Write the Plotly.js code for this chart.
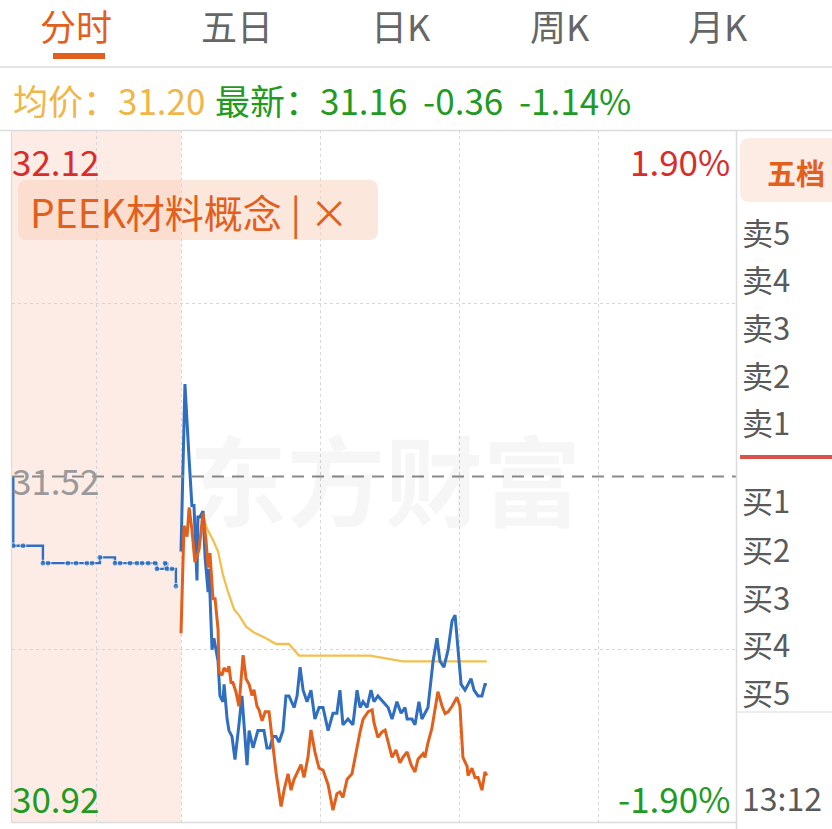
<!DOCTYPE html>
<html>
<head>
<meta charset="utf-8">
<script src="https://cdn.plot.ly/plotly-3.0.1.min.js"></script>
<style>
html,body{margin:0;padding:0;background:#fff;}
#chart{width:832px;height:829px;}
</style>
</head>
<body>
<div id="chart"></div>
<script>
// ---------------- data ----------------
const tabs = ['分时', '五日', '日K', '周K', '月K'];
const prevClose = 31.52;
const priceLabels = ['32.12', '31.52', '30.92'];
const pctLabels = ['1.90%', '-1.90%'];
const yRange = [30.92, 32.12];
const pctRange = [-1.90, 1.90];
const conceptName = 'PEEK材料概念 | ×';
const avgText = '均价：31.20';
const lastText = '最新：31.16  -0.36  -1.14%';
const bookLabels = ['卖5', '卖4', '卖3', '卖2', '卖1', '买1', '买2', '买3', '买4', '买5'];
const timeNow = '13:12';
const watermark = '东方财富';

// call auction (stretched region before 9:30)
const auctionT = [-72.4, -72.4, -68.2, -59.6, -57.4, -48.8, -45.3, -40.6, -38.4, -35.0, -28.5, -26.3, -22.0, -19.0, -16.8, -14.2, -11.2, -10.4, -6.9, -6.0, -3.9, -2.2];
const auctionPrice = [31.52, 31.40, 31.40, 31.37, 31.37, 31.37, 31.37, 31.37, 31.37, 31.38, 31.37, 31.37, 31.37, 31.37, 31.37, 31.37, 31.37, 31.36, 31.37, 31.36, 31.36, 31.33];

// minutes from 9:30 (lunch break removed)
const blueT = [0, 1.7, 3.5, 4.7, 5.6, 6.9, 7.3, 8.2, 9.5, 10.4, 11.7, 12.1, 13.4, 14.2, 16.0, 16.8, 18.1, 18.6, 19.9, 20.7, 22.0, 23.3, 25.0, 26.3, 28.5, 29.4, 31.1, 33.2, 35.0, 35.8, 37.1, 38.4, 39.7, 41.0, 42.3, 44.0, 45.3, 46.6, 48.8, 50.1, 51.4, 52.7, 54.4, 56.1, 57.8, 59.6, 61.3, 63.5, 65.6, 67.3, 68.6, 69.9, 72.1, 74.2, 76.0, 77.3, 78.6, 80.3, 82.0, 83.3, 85.0, 87.2, 89.4, 91.1, 93.2, 95.0, 96.7, 97.6, 99.7, 101.0, 102.7, 104.0, 106.6, 108.8, 110.5, 111.8, 113.5, 115.3, 117.0, 118.3, 119.1, 120.9, 122.6, 123.9, 125.2, 126.5, 128.2, 129.9, 131.2, 132.0];
const bluePrice = [31.39, 31.68, 31.55, 31.47, 31.47, 31.34, 31.45, 31.45, 31.46, 31.38, 31.32, 31.36, 31.22, 31.24, 31.20, 31.14, 31.13, 31.16, 31.10, 31.08, 31.07, 31.03, 31.09, 31.14, 31.02, 31.08, 31.05, 31.08, 31.08, 31.08, 31.05, 31.05, 31.07, 31.07, 31.06, 31.08, 31.14, 31.14, 31.12, 31.14, 31.19, 31.15, 31.13, 31.15, 31.10, 31.12, 31.12, 31.08, 31.11, 31.11, 31.15, 31.09, 31.10, 31.09, 31.15, 31.12, 31.13, 31.12, 31.15, 31.13, 31.14, 31.13, 31.12, 31.10, 31.13, 31.11, 31.12, 31.10, 31.10, 31.09, 31.13, 31.10, 31.12, 31.20, 31.24, 31.20, 31.19, 31.22, 31.27, 31.28, 31.24, 31.16, 31.15, 31.16, 31.17, 31.15, 31.14, 31.14, 31.16, 31.16];

const orangeT = [0, 1.3, 2.6, 3.5, 4.7, 6.0, 7.8, 9.5, 10.8, 11.7, 12.5, 13.8, 14.7, 16.0, 16.4, 17.7, 18.6, 19.9, 20.7, 21.6, 22.4, 23.7, 25.0, 26.8, 28.1, 29.4, 30.6, 31.5, 32.8, 33.7, 35.0, 36.3, 38.0, 39.7, 41.0, 43.2, 44.5, 46.2, 47.5, 48.8, 51.8, 53.1, 54.8, 56.1, 57.8, 59.6, 61.3, 63.5, 65.6, 67.3, 68.6, 69.9, 71.7, 73.8, 75.1, 77.3, 78.6, 80.8, 82.5, 83.3, 85.0, 86.8, 88.1, 89.4, 91.1, 92.8, 94.5, 95.8, 97.6, 99.3, 101.0, 102.3, 104.5, 105.3, 106.6, 108.3, 109.6, 110.9, 112.7, 114.0, 115.3, 117.0, 119.1, 120.4, 121.7, 123.5, 123.9, 125.6, 126.9, 128.2, 129.9, 131.2, 132.0];
const orangePct = [-0.86, -0.27, -0.33, -0.17, -0.29, -0.47, -0.40, -0.20, -0.35, -0.50, -0.42, -0.67, -0.67, -0.84, -1.07, -1.09, -1.05, -1.07, -1.04, -1.13, -1.13, -1.18, -1.26, -0.98, -1.11, -1.14, -1.20, -1.17, -1.26, -1.28, -1.34, -1.29, -1.29, -1.48, -1.62, -1.81, -1.72, -1.63, -1.72, -1.66, -1.58, -1.65, -1.54, -1.39, -1.51, -1.60, -1.61, -1.69, -1.83, -1.74, -1.73, -1.76, -1.66, -1.63, -1.54, -1.40, -1.33, -1.29, -1.28, -1.35, -1.43, -1.40, -1.39, -1.46, -1.54, -1.50, -1.57, -1.54, -1.51, -1.58, -1.62, -1.55, -1.52, -1.54, -1.46, -1.38, -1.28, -1.18, -1.26, -1.30, -1.29, -1.26, -1.21, -1.26, -1.54, -1.59, -1.64, -1.60, -1.65, -1.65, -1.72, -1.62, -1.64];

const avgT = [9.5, 11.2, 13.8, 16.0, 18.1, 20.3, 22.9, 25.0, 28.1, 31.5, 36.7, 41.0, 46.6, 48.8, 50.9, 55.3, 66.9, 81.6, 95.8, 108.8, 120.4, 132.0];
const avgPrice = [31.45, 31.43, 31.41, 31.39, 31.35, 31.32, 31.29, 31.28, 31.26, 31.25, 31.24, 31.23, 31.23, 31.22, 31.21, 31.21, 31.21, 31.21, 31.20, 31.20, 31.20, 31.20];

const xGrid = [-36.5, 0, 60, 120, 180];
const yGrid = [31.22, 31.82];
const xRange = [-72.95, 240];

// ---------------- layout helpers ----------------
const W = 832, H = 829;
const M = {l: 12, r: 95, t: 130, b: 6};
const PW = W - M.l - M.r, PH = H - M.t - M.b;
const P = x => (x - M.l) / PW;           // pixel x -> paper x
const Q = y => (H - M.b - y) / PH;       // pixel y -> paper y
const FONT = '"Noto Sans CJK SC", "Noto Sans", sans-serif';

const C = {
  blue: '#2f6ec0', orange: '#e2601c', yellow: '#f2c04f',
  red: '#d92d2b', green: '#1f9a22', gray: '#5a5a5a', grid: '#d6d6d6',
  tab: '#666666', avg: '#f0b648'
};

function txt(text, x, y, size, color, xanchor, extra) {
  return Object.assign({
    xref: 'paper', yref: 'paper', x: P(x), y: Q(y),
    xanchor: xanchor || 'left', yanchor: 'middle',
    text: text, showarrow: false,
    font: {family: FONT, size: size, color: color}
  }, extra || {});
}
function line(x0, y0, x1, y1, color, width, dash) {
  return {type: 'line', xref: 'paper', yref: 'paper',
    x0: P(x0), y0: Q(y0), x1: P(x1), y1: Q(y1),
    line: {color: color, width: width, dash: dash || 'solid'}, layer: 'above'};
}
function rrect(cx, cy, w, h, r, fill) {
  const a = w / 2, b = h / 2;
  const path = `M ${-a + r},${-b} L ${a - r},${-b} Q ${a},${-b} ${a},${-b + r} L ${a},${b - r} Q ${a},${b} ${a - r},${b} L ${-a + r},${b} Q ${-a},${b} ${-a},${b - r} L ${-a},${-b + r} Q ${-a},${-b} ${-a + r},${-b} Z`;
  return {type: 'path', xref: 'paper', yref: 'paper', xsizemode: 'pixel', ysizemode: 'pixel',
    xanchor: P(cx), yanchor: Q(cy), path: path, fillcolor: fill, line: {width: 0}, layer: 'above'};
}

// ---------------- traces ----------------
const traces = [
  {x: avgT, y: avgPrice, type: 'scatter', mode: 'lines',
   line: {color: C.yellow, width: 2.3}, hoverinfo: 'skip'},
  {x: auctionT, y: auctionPrice, type: 'scatter', mode: 'lines+markers',
   line: {color: C.blue, width: 2.4, shape: 'hv'},
   marker: {color: C.blue, size: auctionT.map((_, i) => i === 0 ? 0 : 6)}, hoverinfo: 'skip'},
  {x: blueT, y: bluePrice, type: 'scatter', mode: 'lines',
   line: {color: C.blue, width: 3}, hoverinfo: 'skip'},
  {x: orangeT, y: orangePct, type: 'scatter', mode: 'lines', yaxis: 'y2',
   line: {color: C.orange, width: 3}, hoverinfo: 'skip'}
];

// ---------------- annotations ----------------
const tabX = [76, 237, 401, 560, 718];
const annotations = [];
tabs.forEach((t, i) => annotations.push(txt(t, tabX[i], 25, 36, i === 0 ? C.orange : C.tab, 'center')));
annotations.push(txt(avgText, 11, 100, 35, C.avg, 'left'));
annotations.push(txt(lastText, 213, 100, 35, C.green, 'left'));

annotations.push(txt(watermark, 385, 476, 98, 'rgba(0,0,0,0.035)', 'center', {font: {family: FONT, size: 98, color: 'rgba(0,0,0,0.035)', weight: 700}}));

annotations.push(txt(priceLabels[0], 10, 160, 35, C.red, 'left'));
annotations.push(txt(priceLabels[1], 10, 480, 35, '#9a9a9a', 'left'));
annotations.push(txt(priceLabels[2], 10, 797, 35, C.green, 'left'));
annotations.push(txt(pctLabels[0], 732, 160, 35, C.red, 'right'));
annotations.push(txt(pctLabels[1], 732, 797, 35, C.green, 'right'));

annotations.push(txt(conceptName, 28, 211, 39, C.orange, 'left'));

annotations.push(txt('五档', 796, 172, 29, C.orange, 'center', {font: {family: FONT, size: 29, color: C.orange, weight: 700}}));
const bookY = [231, 278, 326, 374, 421, 499, 548, 596, 643, 691];
bookLabels.forEach((t, i) => annotations.push(txt(t, 740, bookY[i], 31, C.gray, 'left')));
annotations.push(txt(timeNow, 740, 797, 32, C.gray, 'left'));

// ---------------- shapes ----------------
const shapes = [
  {type: 'rect', xref: 'x', yref: 'paper', x0: xRange[0], x1: 0, y0: 0, y1: 1,
   fillcolor: '#fcece5', line: {width: 0}, layer: 'below'},
  {type: 'line', xref: 'paper', yref: 'y', x0: 0, x1: 1, y0: prevClose, y1: prevClose,
   line: {color: '#8a8a8a', width: 2, dash: '12px,8px'}, layer: 'above'},
  line(0, 67, 832, 67, '#dcdcdc', 1.5),
  line(0, 130.5, 832, 130.5, '#dcdcdc', 1.5),
  line(11.5, 130, 11.5, 823, '#dcdcdc', 1.2),
  line(12, 822.5, 737, 822.5, '#dcdcdc', 1.5),
  line(736.5, 130, 736.5, 829, '#dcdcdc', 1.5),
  line(737, 712, 832, 712, '#dcdcdc', 1.2),
  line(740, 457, 832, 457, '#d9534c', 4),
  {type: 'line', xref: 'paper', yref: 'paper', x0: P(53), x1: P(105), y0: Q(56), y1: Q(56),
   line: {color: C.orange, width: 6}, layer: 'above'},
  rrect(198, 210, 360, 60, 9, 'rgba(250,212,192,0.55)'),
  rrect(792, 170, 104, 64, 10, '#fdece3')
];

const layout = {
  width: W, height: H,
  margin: M,
  paper_bgcolor: '#ffffff', plot_bgcolor: 'rgba(0,0,0,0)',
  showlegend: false,
  xaxis: {range: xRange, tickvals: xGrid, showticklabels: false, showgrid: true,
          gridcolor: C.grid, griddash: 'dot', gridwidth: 1, zeroline: false, showline: false,
          ticks: '', fixedrange: true},
  yaxis: {range: yRange, tickvals: yGrid, showticklabels: false, showgrid: true,
          gridcolor: C.grid, griddash: 'dot', gridwidth: 1, zeroline: false, showline: false,
          ticks: '', fixedrange: true},
  yaxis2: {range: pctRange, overlaying: 'y', side: 'right', showgrid: false,
           showticklabels: false, zeroline: false, showline: false, ticks: '', fixedrange: true},
  annotations: annotations,
  shapes: shapes
};

Plotly.newPlot('chart', traces, layout, {staticPlot: true, displayModeBar: false});
</script>
</body>
</html>
